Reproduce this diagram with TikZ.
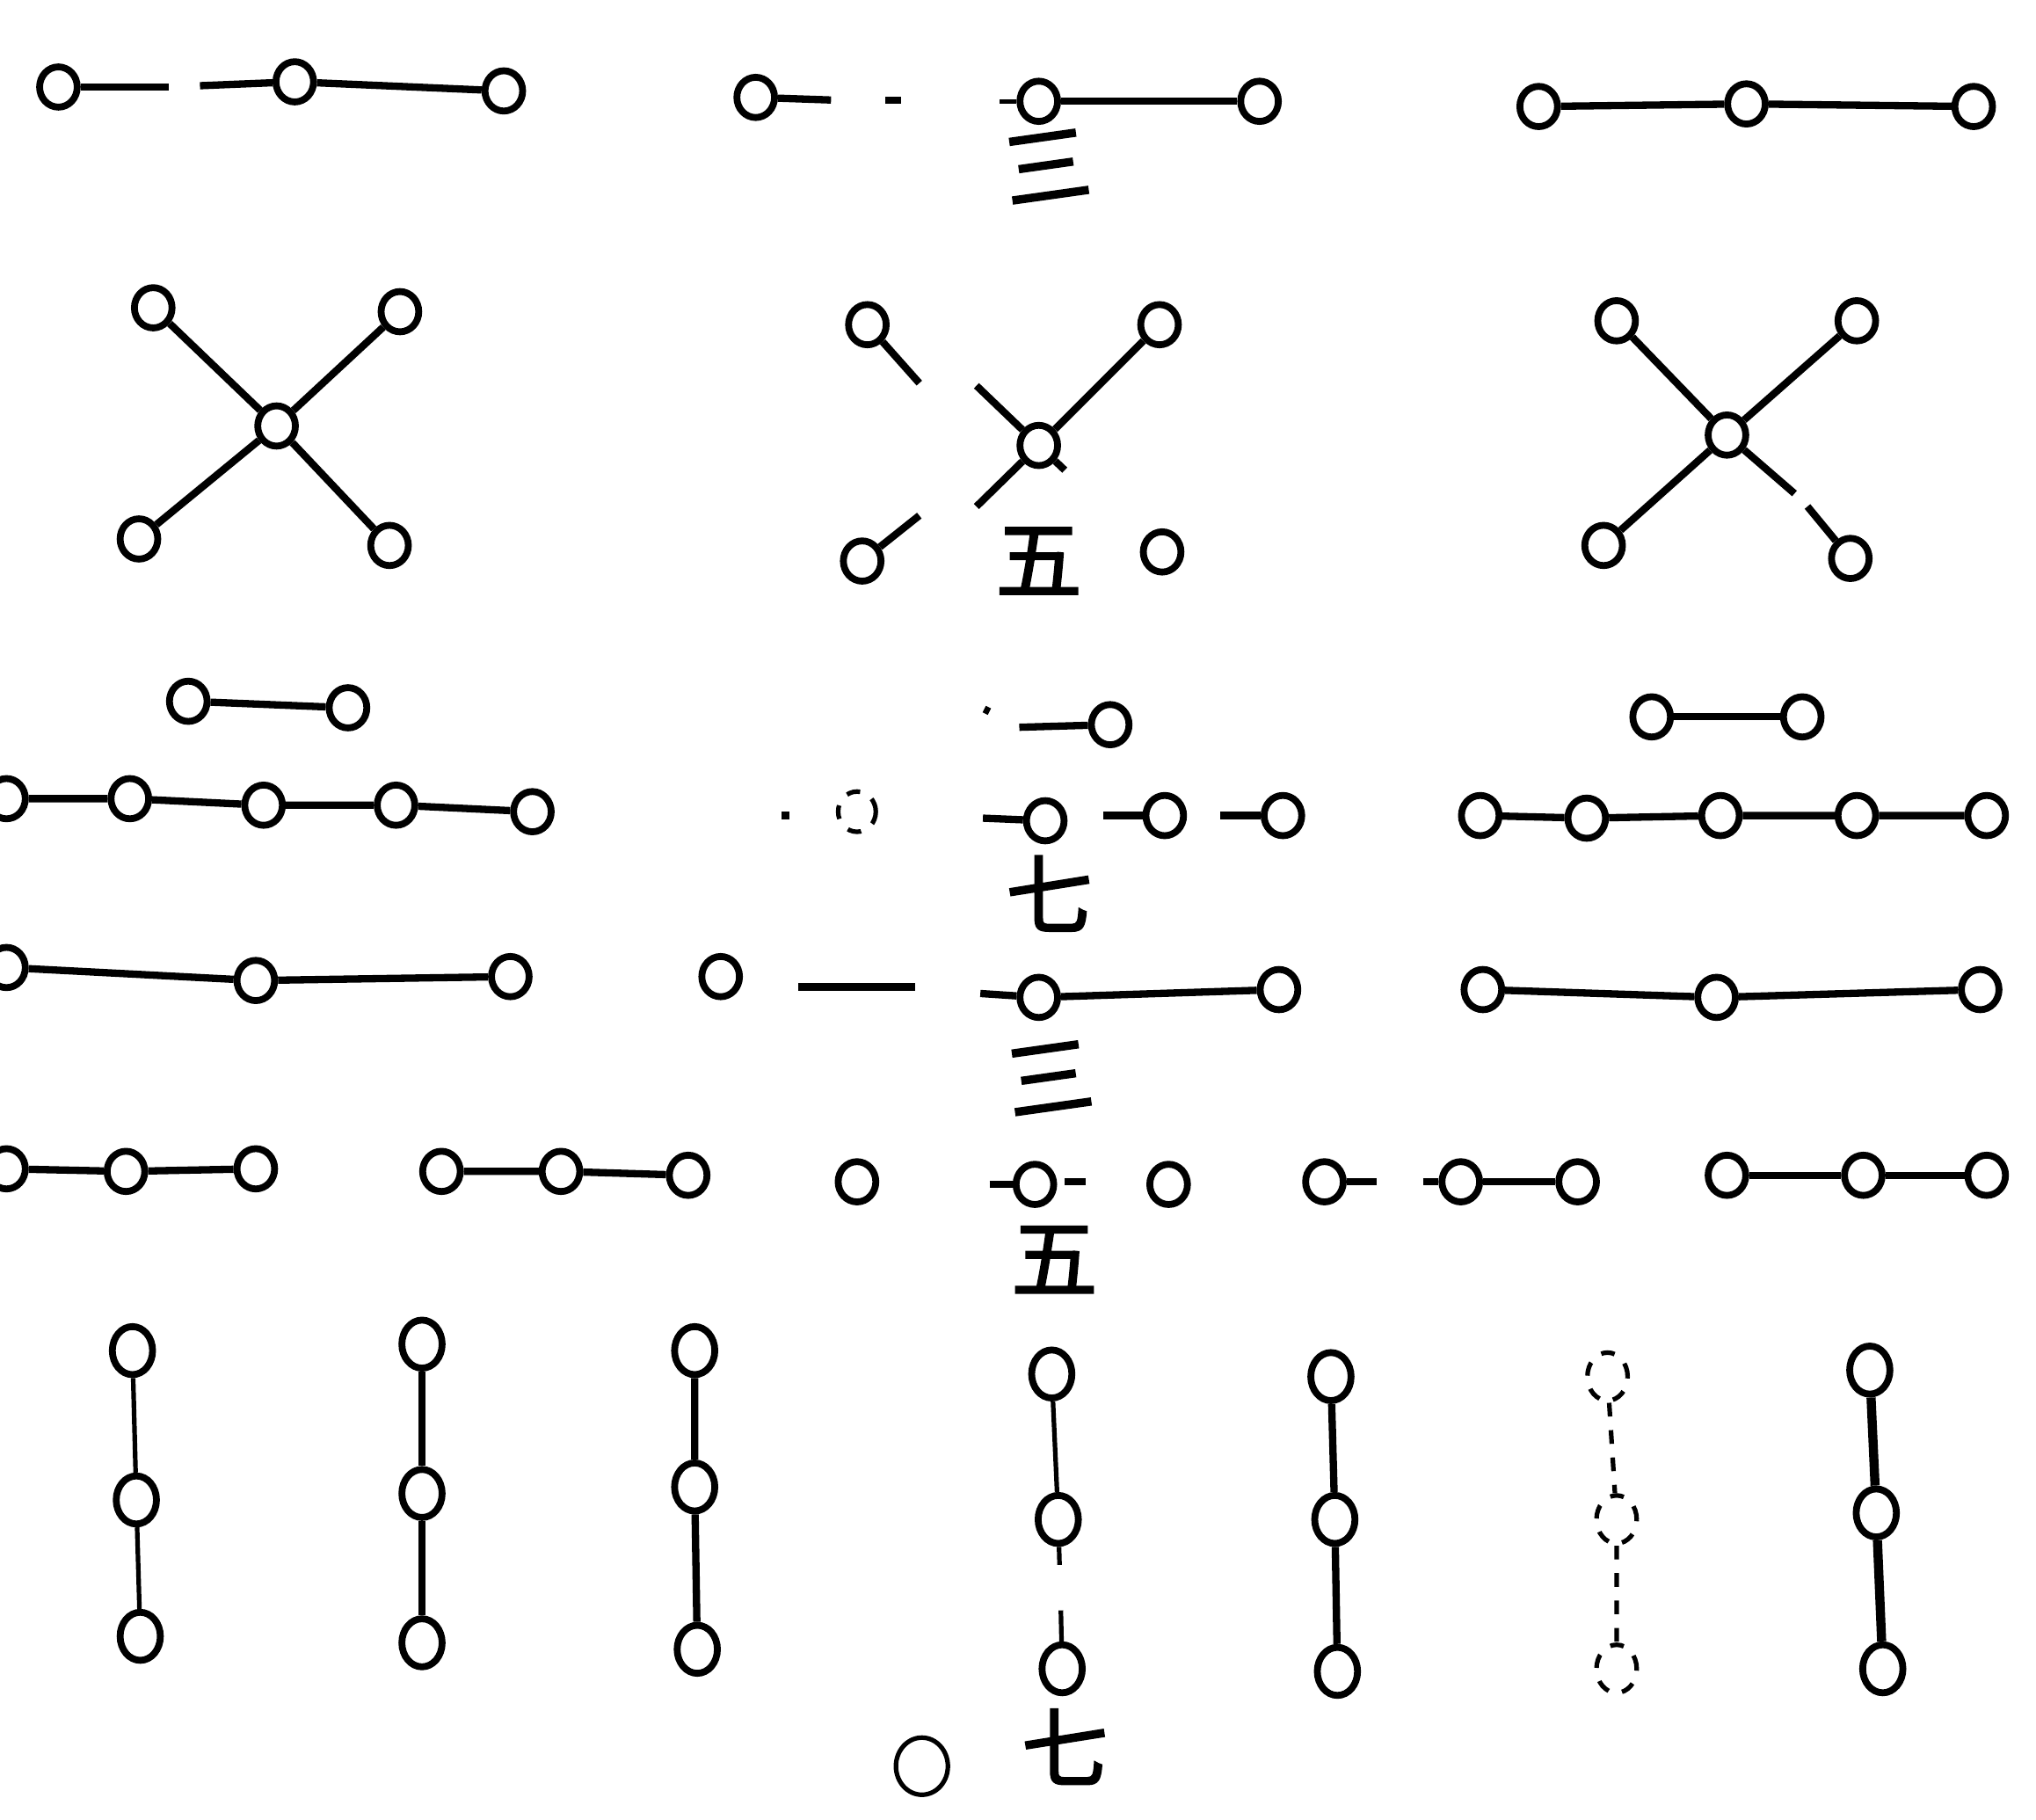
\documentclass[tikz,border=0pt]{standalone}
\usepackage{fontspec}
\newfontfamily\cjk[FakeBold=2]{Noto Sans CJK SC}
\usetikzlibrary{shapes.geometric}
\begin{document}
\begin{tikzpicture}[x=0.1mm,y=-0.1mm,
  bead/.style={draw, line width=1.5pt, ellipse, inner sep=0pt, minimum width=2.9mm, minimum height=3.1mm, fill=white},
  tall/.style={bead, minimum width=3.1mm, minimum height=3.7mm},
  faint/.style={bead, dashed, line width=1pt},
  link/.style={line width=1.6pt},
  thinlink/.style={line width=1.0pt},
  num/.style={font=\cjk\fontsize{19pt}{19pt}\selectfont, inner sep=0pt}]
\useasboundingbox (0,0) rectangle (1568,1401);
% ---------- row 1 ----------
\node[bead] (a1) at (45,67) {};
\node[bead] (a2) at (227,63) {};
\node[bead] (a3) at (388,70) {};
\coordinate (a1e) at (130,67);
\coordinate (a2s) at (154,66);
\draw[link] (a1) -- (a1e);
\draw[link] (a2s) -- (a2);
\draw[link] (a2) -- (a3);
\node[bead] (b1) at (582,75) {};
\node[bead] (b2) at (800,78) {};
\node[bead] (b3) at (970,78) {};
\coordinate (b1e) at (640,77);
\coordinate (bd1) at (682,77); \coordinate (bd2) at (694,77);
\coordinate (bt) at (770,78);
\draw[link] (b1) -- (b1e);
\draw[link] (bd1) -- (bd2);
\draw[thinlink] (bt) -- (b2);
\draw[link] (b2) -- (b3);
\node[bead] (c1) at (1185,82) {};
\node[bead] (c2) at (1345,80) {};
\node[bead] (c3) at (1520,82) {};
\draw[link] (c1) -- (c2) -- (c3);
\node[num, rotate=8] (t1) at (806,128) {三};
% ---------- row 2 ----------
\node[bead] (x0) at (213,328) {};
\node[bead] (x1) at (118,237) {};
\node[bead] (x2) at (308,240) {};
\node[bead] (x3) at (107,415) {};
\node[bead] (x4) at (300,420) {};
\draw[link] (x0) -- (x1); \draw[link] (x0) -- (x2);
\draw[link] (x0) -- (x3); \draw[link] (x0) -- (x4);
\node[bead] (y0) at (800,343) {};
\node[bead] (y1) at (668,250) {};
\node[bead] (y2) at (893,250) {};
\node[bead] (y3) at (664,432) {};
\node[bead] (y4) at (895,425) {};
\coordinate (y1e) at (708,295); \coordinate (y1s) at (752,297);
\coordinate (y3s) at (752,390); \coordinate (y3e) at (708,397);
\coordinate (y4e) at (820,362);
\draw[link] (y1) -- (y1e);
\draw[link] (y1s) -- (y0);
\draw[link] (y0) -- (y2);
\draw[link] (y0) -- (y3s);
\draw[link] (y3e) -- (y3);
\draw[link] (y0) -- (y4e);
\node[num] (t2) at (800,432) {五};
\node[bead] (z0) at (1330,335) {};
\node[bead] (z1) at (1245,247) {};
\node[bead] (z2) at (1430,247) {};
\node[bead] (z3) at (1235,420) {};
\node[bead] (z4) at (1425,430) {};
\coordinate (z4a) at (1382,380); \coordinate (z4b) at (1392,390);
\draw[link] (z0) -- (z1); \draw[link] (z0) -- (z2);
\draw[link] (z0) -- (z3);
\draw[link] (z0) -- (z4a); \draw[link] (z4b) -- (z4);
% ---------- row 3 ----------
\node[bead] (p1) at (145,540) {};
\node[bead] (p2) at (268,545) {};
\draw[link] (p1) -- (p2);
\coordinate (q0) at (785,560);
\node[bead] (q1) at (855,558) {};
\draw[link] (q0) -- (q1);
\coordinate (qd1) at (758,546); \coordinate (qd2) at (762,548);
\draw[link] (qd1) -- (qd2);
\node[bead] (s1) at (1272,552) {};
\node[bead] (s2) at (1388,552) {};
\draw[link] (s1) -- (s2);
% ---------- row 4 ----------
\node[bead] (d1) at (5,615) {};
\node[bead] (d2) at (100,615) {};
\node[bead] (d3) at (203,620) {};
\node[bead] (d4) at (305,620) {};
\node[bead] (d5) at (410,625) {};
\draw[link] (d1) -- (d2) -- (d3) -- (d4) -- (d5);
\coordinate (ed1) at (602,628); \coordinate (ed2) at (608,628);
\draw[link] (ed1) -- (ed2);
\node[faint] (e0) at (660,625) {};
\coordinate (e1s) at (757,630);
\node[bead] (e1) at (805,632) {};
\coordinate (e2s) at (850,628);
\node[bead] (e2) at (897,628) {};
\coordinate (e3s) at (940,628);
\node[bead] (e3) at (988,628) {};
\draw[link] (e1s) -- (e1);
\draw[link] (e2s) -- (e2);
\draw[link] (e3s) -- (e3);
\node[bead] (f1) at (1140,628) {};
\node[bead] (f2) at (1222,630) {};
\node[bead] (f3) at (1325,628) {};
\node[bead] (f4) at (1430,628) {};
\node[bead] (f5) at (1530,628) {};
\draw[link] (f1) -- (f2) -- (f3) -- (f4) -- (f5);
\node[num] (t3) at (808,688) {七};
% ---------- row 5 ----------
\node[bead] (g1) at (5,745) {};
\node[bead] (g2) at (197,755) {};
\node[bead] (g3) at (393,752) {};
\draw[link] (g1) -- (g2) -- (g3);
\node[bead] (h0) at (555,752) {};
\coordinate (h0a) at (615,760); \coordinate (h0b) at (705,760);
\draw[link] (h0a) -- (h0b);
\coordinate (h1s) at (755,765);
\node[bead] (h1) at (800,768) {};
\node[bead] (h2) at (985,762) {};
\draw[link] (h1s) -- (h1) -- (h2);
\node[bead] (k1) at (1142,762) {};
\node[bead] (k2) at (1322,768) {};
\node[bead] (k3) at (1525,762) {};
\draw[link] (k1) -- (k2) -- (k3);
\node[num, rotate=8] (t4) at (808,830) {三};
% ---------- row 6 ----------
\node[bead] (m1) at (5,900) {};
\node[bead] (m2) at (97,902) {};
\node[bead] (m3) at (197,900) {};
\draw[link] (m1) -- (m2) -- (m3);
\node[bead] (n1) at (340,902) {};
\node[bead] (n2) at (432,902) {};
\node[bead] (n3) at (530,905) {};
\draw[link] (n1) -- (n2) -- (n3);
\node[bead] (o1) at (660,910) {};
\coordinate (o2s) at (762,912);
\node[bead] (o2) at (797,912) {};
\coordinate (o2d1) at (820,910); \coordinate (o2d2) at (836,910);
\draw[link] (o2s) -- (o2);
\draw[link] (o2d1) -- (o2d2);
\node[bead] (o3) at (900,912) {};
\node[bead] (u1) at (1020,910) {};
\coordinate (u1e) at (1060,910);
\coordinate (u2s) at (1096,910);
\node[bead] (u2) at (1125,910) {};
\node[bead] (u3) at (1215,910) {};
\draw[link] (u1) -- (u1e);
\draw[link] (u2s) -- (u2) -- (u3);
\node[bead] (w1) at (1330,905) {};
\node[bead] (w2) at (1435,905) {};
\node[bead] (w3) at (1530,905) {};
\draw[link] (w1) -- (w2) -- (w3);
\node[num] (t5) at (812,970) {五};
% ---------- row 7 (vertical) ----------
\node[tall] (v11) at (102,1040) {};
\node[tall] (v12) at (105,1155) {};
\node[tall] (v13) at (108,1260) {};
\draw[thinlink] (v11) -- (v12) -- (v13);
\node[tall] (v21) at (325,1035) {};
\node[tall] (v22) at (325,1150) {};
\node[tall] (v23) at (325,1265) {};
\draw[link] (v21) -- (v22) -- (v23);
\node[tall] (v31) at (535,1040) {};
\node[tall] (v32) at (535,1145) {};
\node[tall] (v33) at (537,1270) {};
\draw[link] (v31) -- (v32) -- (v33);
\node[tall] (v41) at (810,1058) {};
\node[tall] (v42) at (815,1170) {};
\node[tall] (v43) at (818,1285) {};
\coordinate (v42e) at (816,1205); \coordinate (v43s) at (817,1240);
\draw[thinlink] (v41) -- (v42);
\draw[thinlink] (v42) -- (v42e);
\draw[thinlink] (v43s) -- (v43);
\node[tall] (v51) at (1025,1060) {};
\node[tall] (v52) at (1028,1170) {};
\node[tall] (v53) at (1030,1287) {};
\draw[link] (v51) -- (v52) -- (v53);
\node[faint, minimum width=3.1mm, minimum height=3.7mm] (v61) at (1238,1060) {};
\node[faint, minimum width=3.1mm, minimum height=3.7mm] (v62) at (1245,1170) {};
\node[faint, minimum width=3.1mm, minimum height=3.7mm] (v63) at (1245,1285) {};
\draw[thinlink, dashed] (v61) -- (v62) -- (v63);
\node[tall] (v71) at (1440,1055) {};
\node[tall] (v72) at (1445,1165) {};
\node[tall] (v73) at (1450,1285) {};
\draw[link, line width=2pt] (v71) -- (v72) -- (v73);
\node[num] (t6) at (820,1345) {七};
\node[bead, line width=1pt, minimum width=4mm, minimum height=4.4mm] (lone) at (710,1360) {};
\end{tikzpicture}
\end{document}
